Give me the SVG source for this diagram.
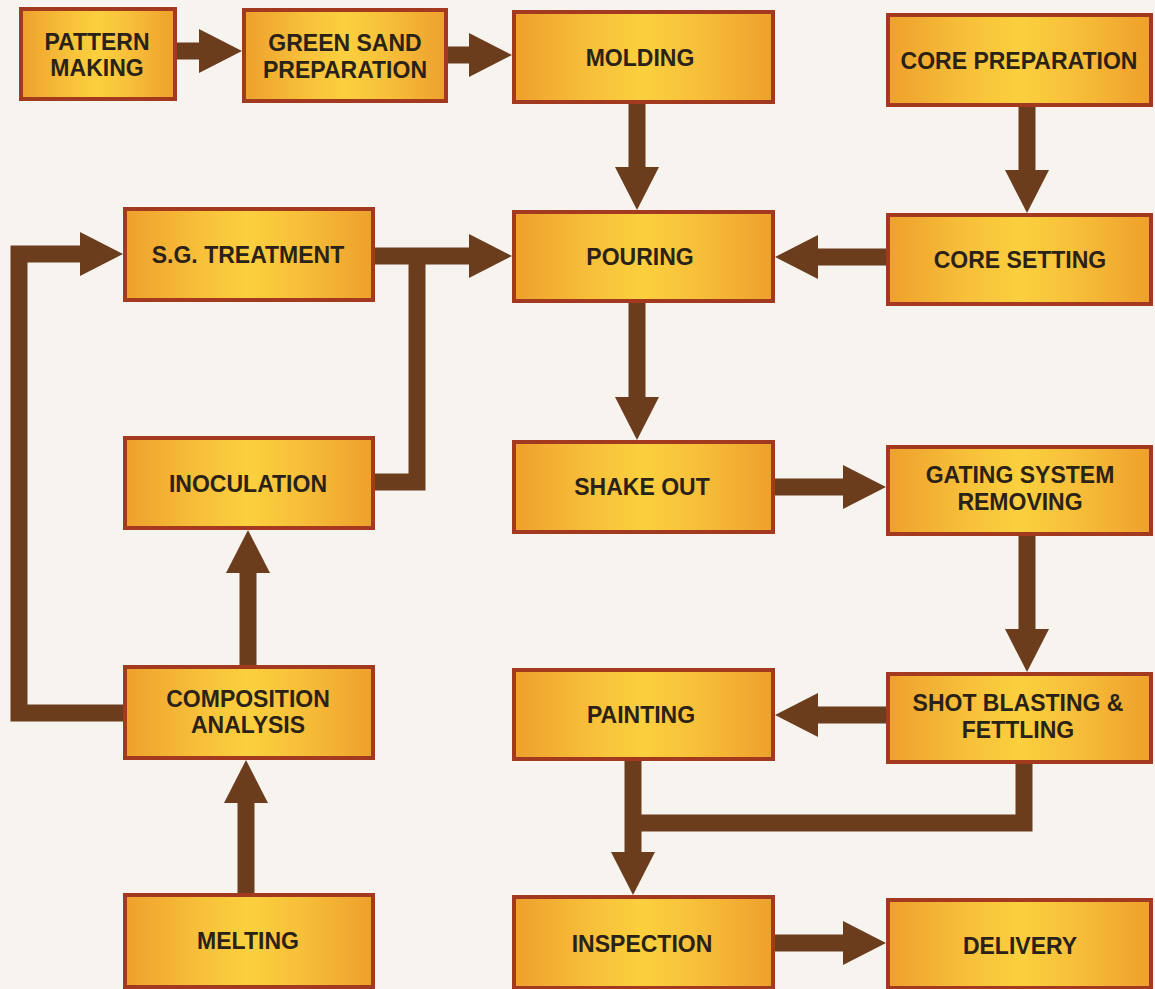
<svg xmlns="http://www.w3.org/2000/svg" width="1155" height="989" viewBox="0 0 1155 989">
<defs>
<linearGradient id="fill" x1="0" y1="0" x2="1" y2="0">
<stop offset="0" stop-color="#eea02c"/>
<stop offset="0.3" stop-color="#f7c03a"/>
<stop offset="0.5" stop-color="#fbd03e"/>
<stop offset="0.7" stop-color="#f7c03a"/>
<stop offset="1" stop-color="#eea02c"/>
</linearGradient>
<marker id="head" markerUnits="userSpaceOnUse" markerWidth="43" markerHeight="44" viewBox="0 0 43 44" refX="1" refY="22" orient="auto">
<path d="M0,0 L43,22 L0,44 z" fill="#6b3d1d"/>
</marker>
<style>
.box{fill:url(#fill);stroke:#a3391f;stroke-width:4}
.t{font-family:"Liberation Sans",Arial,sans-serif;font-weight:bold;font-size:23px;fill:#2b2217;text-anchor:middle}
.c{fill:none;stroke:#6b3d1d;stroke-width:17;stroke-linejoin:miter}
.a{marker-end:url(#head)}
</style>
</defs>
<rect width="1155" height="989" fill="#f7f4f0"/>
<g id="connectors">
<path class="c a" d="M176,51 H200"/>
<path class="c a" d="M447,55 H470"/>
<path class="c a" d="M637,103 V168"/>
<path class="c a" d="M1027,106 V171"/>
<path class="c a" d="M886,257 H817"/>
<path class="c a" d="M375,256 H470"/>
<path class="c" d="M375,482 H417 V256"/>
<path class="c a" d="M123,713 H19 V254 H81"/>
<path class="c a" d="M248,665 V572"/>
<path class="c a" d="M246,893 V802"/>
<path class="c a" d="M637,302 V398"/>
<path class="c a" d="M775,487 H844"/>
<path class="c a" d="M1027,535 V630"/>
<path class="c a" d="M886,715 H817"/>
<path class="c a" d="M633,760 V853"/>
<path class="c" d="M1024,763 V823 H625"/>
<path class="c a" d="M775,943 H844"/>
</g>
<g id="pattern-making"><rect class="box" x="21" y="9" width="154" height="90"/><text class="t" x="97" y="50">PATTERN</text><text class="t" x="97" y="76">MAKING</text></g>
<g id="green-sand"><rect class="box" x="244" y="10" width="202" height="91"/><text class="t" x="345" y="51">GREEN SAND</text><text class="t" x="345" y="78">PREPARATION</text></g>
<g id="molding"><rect class="box" x="514" y="12" width="259" height="90"/><text class="t" x="640" y="66">MOLDING</text></g>
<g id="core-preparation"><rect class="box" x="888" y="15" width="263" height="90"/><text class="t" x="1019" y="69">CORE PREPARATION</text></g>
<g id="pouring"><rect class="box" x="514" y="212" width="259" height="89"/><text class="t" x="640" y="265">POURING</text></g>
<g id="core-setting"><rect class="box" x="888" y="215" width="263" height="89"/><text class="t" x="1020" y="268">CORE SETTING</text></g>
<g id="sg-treatment"><rect class="box" x="125" y="209" width="248" height="91"/><text class="t" x="248" y="263">S.G. TREATMENT</text></g>
<g id="inoculation"><rect class="box" x="125" y="438" width="248" height="90"/><text class="t" x="248" y="492">INOCULATION</text></g>
<g id="shake-out"><rect class="box" x="514" y="442" width="259" height="90"/><text class="t" x="642" y="495">SHAKE OUT</text></g>
<g id="gating-system"><rect class="box" x="888" y="447" width="263" height="87"/><text class="t" x="1020" y="483">GATING SYSTEM</text><text class="t" x="1020" y="510">REMOVING</text></g>
<g id="composition-analysis"><rect class="box" x="125" y="667" width="248" height="91"/><text class="t" x="248" y="707">COMPOSITION</text><text class="t" x="248" y="733">ANALYSIS</text></g>
<g id="painting"><rect class="box" x="514" y="670" width="259" height="89"/><text class="t" x="641" y="723">PAINTING</text></g>
<g id="shot-blasting"><rect class="box" x="888" y="674" width="263" height="88"/><text class="t" x="1018" y="711">SHOT BLASTING &amp;</text><text class="t" x="1018" y="738">FETTLING</text></g>
<g id="melting"><rect class="box" x="125" y="895" width="248" height="92"/><text class="t" x="248" y="949">MELTING</text></g>
<g id="inspection"><rect class="box" x="514" y="897" width="259" height="91"/><text class="t" x="642" y="952">INSPECTION</text></g>
<g id="delivery"><rect class="box" x="888" y="900" width="263" height="88"/><text class="t" x="1020" y="954">DELIVERY</text></g>
</svg>
